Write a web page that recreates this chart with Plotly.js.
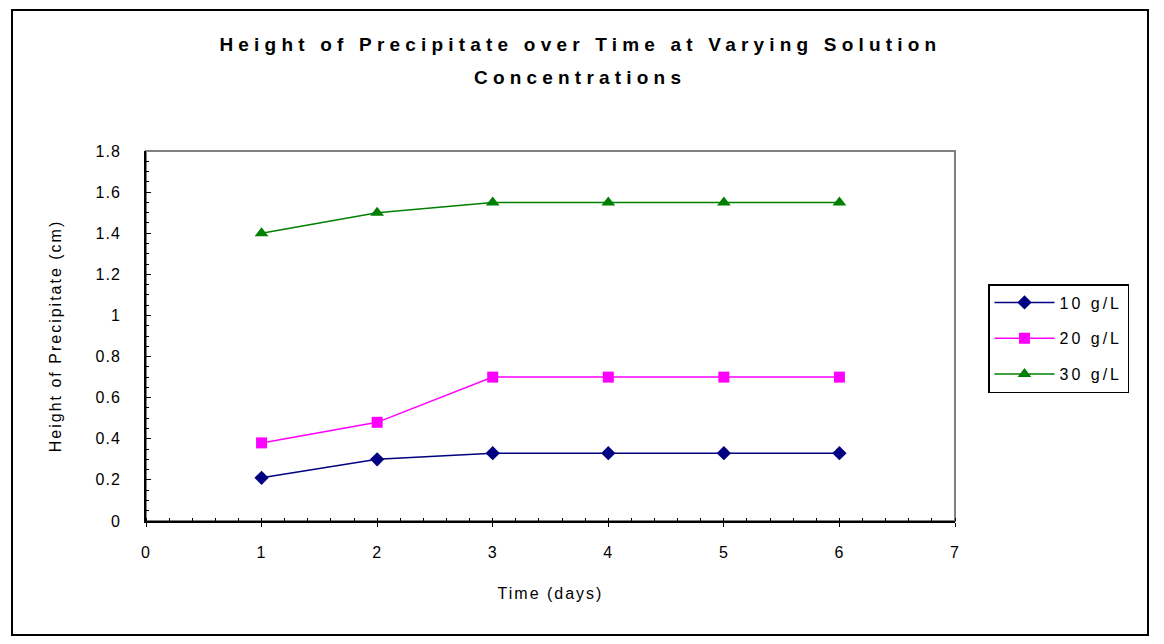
<!DOCTYPE html>
<html>
<head>
<meta charset="utf-8">
<script src="https://cdn.plot.ly/plotly-3.0.1.min.js"></script>
<style>
  body { margin: 0; background: #fff; }
  #chart { width: 1164px; height: 644px; }
  .gtitle, .annotation-text { letter-spacing: 5.2px; }
  .xtitle, .ytitle { letter-spacing: 2px; }
  .xtick text, .ytick text { letter-spacing: 1px; }
  .legendtext { letter-spacing: 3px; }
</style>
</head>
<body>
<div id="chart"></div>
<script>
const days = [1, 2, 3, 4, 5, 6];
const conc10 = [0.21, 0.30, 0.33, 0.33, 0.33, 0.33];
const conc20 = [0.38, 0.48, 0.70, 0.70, 0.70, 0.70];
const conc30 = [1.40, 1.50, 1.55, 1.55, 1.55, 1.55];
const seriesNames = ['10 g/L', '20 g/L', '30 g/L'];
const titleLines = ['Height of Precipitate over Time at Varying Solution', 'Concentrations'];

const fontFam = '"Liberation Sans", Arial, sans-serif';

const trace10 = {
    x: days, y: conc10, name: seriesNames[0], legendgroup: 'a',
    mode: 'lines+markers',
    line: {color: '#000080', width: 1.5},
    marker: {symbol: 'diamond', size: 11, color: '#000080'}
};
const trace20 = {
    x: days, y: conc20, name: seriesNames[1], legendgroup: 'b',
    mode: 'lines+markers',
    line: {color: '#ff00ff', width: 1.5},
    marker: {symbol: 'square', size: 11, color: '#ff00ff'}
};
const trace30 = {
    x: days, y: conc30, name: seriesNames[2], legendgroup: 'c',
    mode: 'lines+markers',
    line: {color: '#008000', width: 1.5},
    marker: {symbol: 'triangle-up', size: 12, color: '#008000'}
};

const layout = {
    width: 1164,
    height: 644,
    margin: {l: 146, r: 209, t: 151, b: 123},
    paper_bgcolor: '#fff',
    plot_bgcolor: '#fff',
    font: {family: fontFam, size: 16, color: '#000'},
    title: {
        text: '<b>' + titleLines[0] + '</b>',
        font: {family: fontFam, size: 19, color: '#000'},
        x: 0.537, xref: 'paper', xanchor: 'center',
        y: 1 - 44 / 644, yref: 'container', yanchor: 'middle'
    },
    annotations: [{
        text: '<b>' + titleLines[1] + '</b>',
        font: {family: fontFam, size: 19, color: '#000'},
        xref: 'paper', yref: 'paper',
        x: 0.537, xanchor: 'center',
        y: (521 - 77) / 370, yanchor: 'middle',
        showarrow: false
    }],
    xaxis: {
        range: [0, 7],
        dtick: 1,
        showgrid: false,
        zeroline: false,
        showline: true,
        linecolor: '#000',
        linewidth: 2,
        ticks: 'outside',
        ticklen: 4,
        tickcolor: '#000',
        minor: {dtick: 0.2, ticks: 'inside', ticklen: 3, tickcolor: '#000', showgrid: false},
        tickfont: {size: 16},
        ticklabelstandoff: 12,
        title: {text: 'Time (days)', font: {size: 16}, standoff: 28}
    },
    yaxis: {
        range: [0, 1.8],
        dtick: 0.2,
        showgrid: false,
        zeroline: false,
        showline: true,
        linecolor: '#000',
        linewidth: 2,
        ticks: 'inside',
        ticklen: 5,
        tickcolor: '#000',
        minor: {dtick: 0.05, ticks: 'inside', ticklen: 3, tickcolor: '#000', showgrid: false},
        tickfont: {size: 16},
        ticklabelstandoff: 20,
        title: {text: 'Height of Precipitate (cm)', font: {size: 16}, standoff: 30}
    },
    showlegend: true,
    legend: {
        x: (988 - 146) / 809, xanchor: 'left',
        y: (521 - 284) / 370, yanchor: 'top',
        bgcolor: '#fff',
        bordercolor: '#000',
        borderwidth: 1.5,
        tracegroupgap: 12,
        itemwidth: 60,
        font: {size: 16}
    },
    shapes: [
        {
            type: 'rect', xref: 'paper', yref: 'paper',
            x0: 0, x1: 1, y0: 0, y1: 1,
            line: {color: '#808080', width: 2},
            layer: 'below'
        },
        {
            type: 'rect', xref: 'paper', yref: 'paper',
            x0: (12 - 146) / 809, x1: (1148 - 146) / 809,
            y0: (521 - 635) / 370, y1: (521 - 10) / 370,
            line: {color: '#000', width: 2},
            layer: 'below'
        }
    ]
};

const config = {displayModeBar: false, responsive: false};
Plotly.newPlot('chart', [trace10, trace20, trace30], layout, config);
</script>
</body>
</html>
